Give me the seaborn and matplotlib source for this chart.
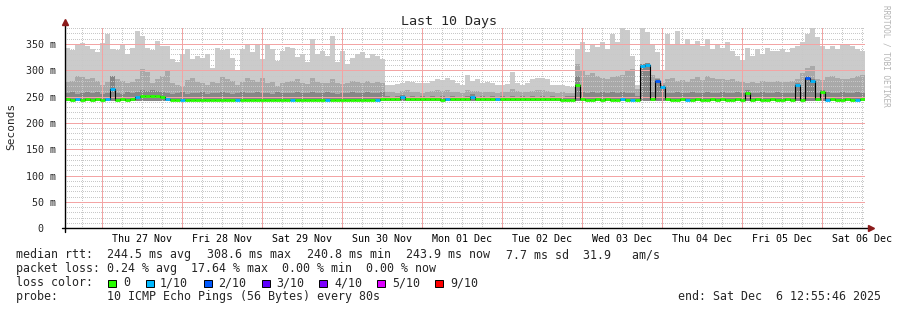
import numpy as np
import pandas as pd
import matplotlib
matplotlib.use("Agg")
import matplotlib.pyplot as plt
import matplotlib.dates as mdates
from matplotlib.ticker import MultipleLocator, FuncFormatter, FixedLocator
from matplotlib.patches import Rectangle
import seaborn as sns

# ---------------- data ----------------
start_time = "2025-11-26 12:55:46"
bin_minutes = 90
n_bins = 160

smoke_floor = 241

smoke_max = [
    343, 338, 350, 352, 347, 341, 334, 352, 368, 341,
    338, 350, 331, 343, 374, 366, 343, 338, 356, 347,
    347, 321, 315, 331, 341, 321, 328, 324, 331, 305,
    342, 338, 341, 324, 299, 341, 350, 334, 350, 321,
    350, 341, 318, 336, 345, 343, 326, 330, 315, 360,
    331, 337, 327, 366, 315, 337, 312, 324, 331, 334,
    324, 331, 327, 321, 273, 273, 274, 276, 279, 277,
    276, 276, 275, 279, 283, 281, 285, 282, 276, 273,
    292, 279, 283, 276, 277, 275, 273, 273, 274, 296,
    276, 273, 275, 283, 286, 286, 284, 273, 273, 272,
    270, 268, 340, 353, 335, 350, 344, 353, 340, 369,
    353, 380, 376, 327, 273, 380, 372, 350, 334, 300,
    369, 350, 375, 350, 359, 350, 356, 346, 359, 340,
    350, 343, 353, 337, 327, 320, 343, 327, 340, 331,
    343, 337, 337, 340, 334, 343, 346, 353, 369, 380,
    363, 346, 340, 346, 340, 350, 350, 346, 340, 337,
]

smoke_mid = [
    278, 280, 290, 288, 283, 285, 280, 272, 278, 290,
    283, 280, 276, 278, 283, 302, 296, 276, 283, 290,
    298, 276, 272, 270, 282, 286, 278, 276, 272, 278,
    276, 288, 284, 280, 272, 277, 286, 282, 278, 286,
    275, 278, 270, 275, 277, 280, 283, 276, 274, 286,
    278, 276, 275, 283, 276, 274, 276, 280, 278, 276,
    280, 276, 278, 276, 258, 259, 257, 260, 262, 258,
    259, 257, 258, 261, 263, 260, 262, 259, 258, 257,
    262, 260, 261, 258, 259, 258, 257, 258, 259, 264,
    260, 258, 259, 261, 263, 262, 260, 258, 257, 258,
    257, 256, 312, 300, 292, 295, 290, 285, 283, 288,
    290, 292, 298, 302, 264, 312, 314, 292, 286, 275,
    283, 285, 280, 282, 278, 283, 288, 282, 290, 285,
    283, 284, 282, 283, 280, 278, 275, 277, 276, 279,
    278, 277, 279, 278, 277, 280, 283, 295, 305, 308,
    283, 282, 287, 290, 286, 283, 283, 286, 290, 292,
]

smoke_dark = [
    256, 258, 255, 257, 259, 256, 258, 255, 257, 289,
    257, 255, 258, 256, 259, 262, 261, 263, 260, 258,
    257, 255, 256, 258, 255, 257, 256, 258, 255, 257,
    256, 258, 257, 255, 256, 258, 257, 256, 258, 256,
    257, 255, 258, 256, 257, 256, 258, 257, 256, 258,
    257, 256, 258, 257, 255, 257, 256, 258, 257, 256,
    258, 256, 257, 258, 251, 250, 251, 254, 250, 251,
    250, 251, 250, 251, 250, 251, 250, 251, 250, 250,
    251, 255, 250, 251, 250, 251, 250, 251, 250, 251,
    250, 251, 250, 251, 250, 251, 250, 251, 250, 250,
    251, 252, 290, 258, 257, 259, 256, 258, 257, 258,
    256, 258, 257, 256, 252, 312, 314, 258, 284, 272,
    257, 256, 258, 257, 256, 258, 257, 256, 258, 256,
    257, 258, 256, 257, 258, 256, 262, 257, 256, 258,
    256, 257, 258, 256, 257, 256, 275, 258, 290, 283,
    257, 263, 258, 256, 257, 258, 256, 257, 258, 256,
]

median_rtt = [
    245, 244, 245, 244, 245, 244, 245, 244, 245, 264,
    244, 245, 244, 245, 249, 251, 251, 252, 251, 250,
    246, 244, 243, 244, 244, 243, 244, 244, 243, 244,
    244, 243, 244, 244, 243, 244, 244, 243, 244, 244,
    243, 244, 244, 243, 244, 243, 244, 244, 243, 244,
    244, 243, 244, 244, 243, 244, 244, 243, 244, 244,
    243, 244, 244, 245, 245, 245, 245, 249, 245, 245,
    245, 245, 245, 245, 245, 244, 245, 245, 245, 245,
    245, 250, 245, 245, 245, 245, 245, 245, 245, 245,
    245, 245, 245, 245, 245, 245, 245, 245, 245, 244,
    244, 243, 272, 245, 244, 244, 245, 244, 245, 244,
    244, 245, 244, 244, 244, 308, 310, 245, 279, 268,
    245, 244, 244, 245, 244, 244, 245, 244, 244, 245,
    244, 245, 244, 244, 245, 244, 256, 244, 245, 244,
    244, 245, 244, 244, 245, 244, 272, 244, 285, 279,
    245, 259, 244, 245, 244, 244, 245, 244, 244, 245,
]

lost_pings = [
    0, 0, 1, 0, 0, 0, 0, 0, 1, 1,
    0, 0, 0, 0, 1, 0, 0, 0, 0, 0,
    1, 0, 0, 1, 0, 0, 0, 0, 0, 0,
    0, 0, 0, 0, 1, 0, 0, 0, 0, 0,
    0, 0, 0, 0, 0, 1, 0, 0, 0, 0,
    0, 0, 1, 0, 0, 0, 0, 0, 0, 0,
    0, 0, 1, 0, 0, 0, 0, 1, 0, 0,
    0, 0, 0, 0, 0, 0, 1, 0, 0, 0,
    0, 1, 0, 0, 0, 0, 1, 0, 0, 0,
    0, 0, 0, 0, 0, 0, 0, 0, 0, 0,
    0, 0, 0, 0, 0, 0, 0, 0, 0, 0,
    0, 1, 0, 1, 0, 1, 1, 0, 2, 1,
    0, 0, 0, 0, 1, 0, 0, 0, 0, 0,
    0, 0, 0, 0, 0, 0, 0, 0, 0, 0,
    0, 0, 0, 0, 0, 0, 1, 0, 2, 1,
    0, 0, 1, 0, 0, 0, 0, 0, 1, 0,
]

loss_labels = ["0", "1/10", "2/10", "3/10", "4/10", "5/10", "9/10"]
loss_thresholds = [0, 1, 2, 3, 4, 5, 9]
loss_colors = ["#26ff00", "#00b8ff", "#0059ff", "#5e00ff", "#7e00ff", "#dd00ff", "#ff0000"]

y_tick_values = [0, 50, 100, 150, 200, 250, 300, 350]
y_tick_labels = ["0  ", "50 m", "100 m", "150 m", "200 m", "250 m", "300 m", "350 m"]

title = "Last 10 Days"
y_label = "Seconds"
legend_median = ["median rtt:", "244.5 ms avg", "308.6 ms max", "240.8 ms min",
                 "243.9 ms now", "7.7 ms sd  31.9   am/s"]
legend_loss = "packet loss: 0.24 % avg  17.64 % max  0.00 % min  0.00 % now"
probe_text = "probe:       10 ICMP Echo Pings (56 Bytes) every 80s"
end_text = "end: Sat Dec  6 12:55:46 2025"
watermark = "RRDTOOL / TOBI OETIKER"

# ---------------- figure ----------------
sns.set_theme(style="white")
mono = ["DejaVu Sans Mono", "DejaVu Sans"]
plt.rcParams["font.family"] = mono

W, H = 897, 310
fig = plt.figure(figsize=(W / 100, H / 100), dpi=100)
fig.patch.set_facecolor("white")

ax_left, ax_right, ax_bottom_px, ax_top_px = 65.4, 865.4, 228.3, 27.1
ax = fig.add_axes([ax_left / W, (H - ax_bottom_px) / H,
                   (ax_right - ax_left) / W, (ax_bottom_px - ax_top_px) / H])
ax.set_facecolor("white")

edges = pd.date_range(pd.Timestamp(start_time), periods=n_bins + 1, freq=f"{bin_minutes}min")
xe = mdates.date2num(edges.to_pydatetime())


def ext(a):
    a = np.asarray(a, dtype=float)
    return np.r_[a, a[-1]]


floor = np.full(n_bins + 1, float(smoke_floor))
ax.fill_between(xe, floor, ext(smoke_max), step="post", color="#cbcbcb", lw=0, zorder=1)
ax.fill_between(xe, floor, ext(smoke_mid), step="post", color="#a9a9a9", lw=0, zorder=1.1)
ax.fill_between(xe, floor, ext(smoke_dark), step="post", color="#868686", lw=0, zorder=1.2)

# median: black step line, then loss-coloured segments
df = pd.DataFrame({"t": xe, "median": ext(median_rtt)})
sns.lineplot(data=df, x="t", y="median", ax=ax, color="black", lw=0.8,
             drawstyle="steps-post", zorder=4, estimator=None)


def loss_color(n):
    idx = 0
    for i, th in enumerate(loss_thresholds):
        if n >= th:
            idx = i
    return loss_colors[idx]


seg_colors = [loss_color(n) for n in lost_pings]
ax.hlines(median_rtt, xe[:-1], xe[1:], colors=seg_colors, lw=2.0, zorder=5)

# axes limits
ax.set_xlim(xe[0], xe[-1])
ax.set_ylim(0, 382)

# ticks
ax.yaxis.set_major_locator(FixedLocator(y_tick_values))
ax.yaxis.set_major_formatter(FuncFormatter(
    lambda v, p: y_tick_labels[y_tick_values.index(int(round(v)))] if int(round(v)) in y_tick_values else ""))
ax.yaxis.set_minor_locator(MultipleLocator(10))
ax.xaxis.set_major_locator(mdates.DayLocator())
ax.xaxis.set_major_formatter(FuncFormatter(lambda v, p: ""))
ax.xaxis.set_minor_locator(mdates.HourLocator(byhour=[6, 12, 18]))


def noon_fmt(v, p):
    d = mdates.num2date(v)
    if d.hour == 12:
        return d.strftime("%a %d %b")
    return ""


ax.xaxis.set_minor_formatter(FuncFormatter(noon_fmt))

ax.set_axisbelow(False)
ax.grid(True, which="minor", color="#c8c8c8", lw=0.72, ls=(0, (1, 2)), zorder=2.5,
        antialiased=False)
ax.grid(True, which="major", color="#f3a4a4", lw=0.72, ls=(0, (1, 1)), zorder=2.6,
        antialiased=False)

ax.tick_params(axis="x", which="both", labelsize=7.2, pad=2, colors="black")
ax.tick_params(axis="x", which="minor", length=2, color="#aaaaaa", width=0.7, direction="out")
ax.tick_params(axis="x", which="major", length=2, color="#f08080", width=0.7, direction="out")
ax.tick_params(axis="y", which="major", length=3, color="black", width=0.7, labelsize=7.2, pad=4)
ax.tick_params(axis="y", which="minor", length=1.5, color="#999999", width=0.6)
for lab in ax.get_xticklabels(which="minor") + ax.get_yticklabels():
    lab.set_fontfamily(mono)

for s in ["top", "right", "bottom", "left"]:
    ax.spines[s].set_visible(False)

# axis lines with arrows
ax.plot([-0.004, 1.006], [0, 0], transform=ax.transAxes, color="black", lw=1.0,
        clip_on=False, zorder=6)
ax.plot([0, 0], [-0.02, 1.02], transform=ax.transAxes, color="black", lw=1.0,
        clip_on=False, zorder=6)
ax.plot([1.007], [0], marker=">", ms=4, color="#8b1a1a", transform=ax.transAxes,
        clip_on=False, zorder=7)
ax.plot([0], [1.025], marker="^", ms=4, color="#8b1a1a", transform=ax.transAxes,
        clip_on=False, zorder=7)
ax.set_xlabel("")
ax.set_ylabel("")


def fx(px):
    return px / W


def fy(py):
    return 1 - py / H


fig.text(fx(448.5), fy(25), title, ha="center", va="baseline", fontsize=9.6, family=mono)
fig.text(fx(11), fy(126), y_label, ha="center", va="center", rotation=90, fontsize=8, family=mono)
fig.text(fx(886), fy(5), watermark, ha="center", va="top", rotation=-90, fontsize=5.6,
         color="#b4b4b4", family=mono)

fs = 8.37
med_x = [16, 107, 207, 307, 406, 506]
for xpos, txt in zip(med_x, legend_median):
    fig.text(fx(xpos), fy(258), txt, ha="left", va="baseline", fontsize=fs, family=mono)
fig.text(fx(16), fy(272), legend_loss, ha="left", va="baseline", fontsize=fs, family=mono)
fig.text(fx(16), fy(286), "loss color:", ha="left", va="baseline", fontsize=fs, family=mono)
sq_x = [108, 146, 204, 262, 319, 377, 435]
lab_x = [123, 160, 218, 276, 334, 392, 450]
for sx, lx, lab, col in zip(sq_x, lab_x, loss_labels, loss_colors):
    fig.patches.append(Rectangle((fx(sx), fy(287)), 7.5 / W, 7.5 / H, transform=fig.transFigure,
                                 facecolor=col, edgecolor="black", lw=0.7))
    fig.text(fx(lx), fy(286), lab, ha="left", va="baseline", fontsize=fs, family=mono)
fig.text(fx(16), fy(300), probe_text, ha="left", va="baseline", fontsize=fs, family=mono)
fig.text(fx(678), fy(300), end_text, ha="left", va="baseline", fontsize=fs, family=mono)

fig.savefig("out.png", dpi=100, facecolor="white")
